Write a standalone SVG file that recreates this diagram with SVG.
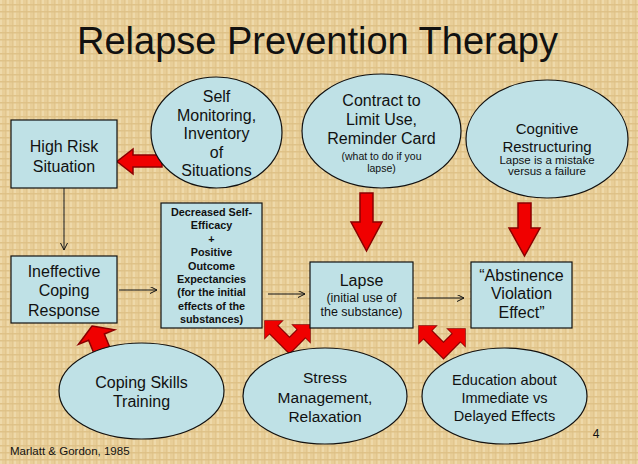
<svg xmlns="http://www.w3.org/2000/svg" width="638" height="464" viewBox="0 0 638 464">
<defs>
<pattern id="weave" width="7" height="7" patternUnits="userSpaceOnUse">
<rect width="7" height="7" fill="#e8ce98"/>
<rect x="0" y="0" width="2" height="7" fill="#eed9aa"/>
<rect x="0" y="4" width="7" height="1.5" fill="#dfc288"/>
<rect x="5" y="0" width="1" height="7" fill="#dcbe84" opacity="0.5"/>
</pattern>
<marker id="open" markerUnits="userSpaceOnUse" markerWidth="10" markerHeight="10" refX="7" refY="3.5" orient="auto">
<path d="M0,0 L7,3.5 L0,7" fill="none" stroke="#111" stroke-width="1"/>
</marker>
<style>
.box{fill:#bfe1e6;stroke:#111;stroke-width:1.2}
.ell{fill:#bfe1e6;stroke:#111;stroke-width:1.2}
.t{font-family:"Liberation Sans",Arial,sans-serif;fill:#111;text-anchor:middle}
.b16{font-size:16px}
.s12{font-size:12.5px}
.s11{font-size:10.5px}
.bold{font-family:"Liberation Sans",Arial,sans-serif;font-weight:bold;font-size:10.8px;fill:#111;text-anchor:middle}
.thin{stroke:#111;stroke-width:1;fill:none;marker-end:url(#open)}
.blk{fill:#f00000;stroke:#8a0000;stroke-width:1.5;stroke-linejoin:miter}
.vout{fill:none;stroke:#8a0000;stroke-width:13;stroke-linejoin:miter}
.vin{fill:none;stroke:#f00000;stroke-width:10.5;stroke-linejoin:miter}
.vhead{fill:#f00000}
</style>
</defs>
<rect width="638" height="464" fill="url(#weave)"/>
<text x="317.5" y="54" font-family="Liberation Sans, Arial, sans-serif" font-size="38" fill="#111" text-anchor="middle">Relapse Prevention Therapy</text>

<g id="connectors">
<line class="thin" x1="64" y1="188" x2="64" y2="250"/>
<line class="thin" x1="119" y1="290" x2="157" y2="290"/>
<line class="thin" x1="268" y1="294" x2="305" y2="294"/>
<line class="thin" x1="417" y1="298" x2="464" y2="298"/>
<polygon class="blk" points="162,155 162,167 133,167 133,174 117,161.5 133,149 133,155"/>
<polygon class="blk" points="360,193 373,193 373,222 382,222 366.5,251 351,222 360,222"/>
<polygon class="blk" points="518,203 531,203 531,228 540,228 524.5,256 509,228 518,228"/>
<polygon class="blk" transform="translate(92,326) rotate(-22)" points="0,0 19.5,12 8.5,12 8.5,30 -8.5,30 -8.5,12 -19.5,12"/>
<g>
<polyline class="vout" points="271,327 289.5,345.5 303,332"/>
<polygon class="blk" points="265,321 282,321 265,338"/>
<polygon class="blk" points="310,325 293,325 310,342"/>
<polyline class="vin" points="271,327 289.5,345.5 303,332"/>
<polygon class="vhead" points="265,321 282,321 265,338"/>
<polygon class="vhead" points="310,325 293,325 310,342"/>
</g>
<g>
<polyline class="vout" points="425,332 443.5,350.5 458,336"/>
<polygon class="blk" points="419,326 436,326 419,343"/>
<polygon class="blk" points="465,329 448,329 465,346"/>
<polyline class="vin" points="425,332 443.5,350.5 458,336"/>
<polygon class="vhead" points="419,326 436,326 419,343"/>
<polygon class="vhead" points="465,329 448,329 465,346"/>
</g>
</g>

<g id="highRisk">
<rect class="box" x="11" y="120" width="106" height="68"/>
<text class="t b16" x="64" y="152">High Risk</text>
<text class="t b16" x="64" y="172">Situation</text>
</g>
<g id="ineffective">
<rect class="box" x="11" y="256" width="106" height="67"/>
<text class="t b16" x="64" y="277">Ineffective</text>
<text class="t b16" x="64" y="296">Coping</text>
<text class="t b16" x="64" y="316">Response</text>
</g>
<g id="decreased">
<rect class="box" x="161" y="203" width="101" height="125"/>
<text class="bold" x="211.5" y="216">Decreased Self-</text>
<text class="bold" x="211.5" y="229.4">Efficacy</text>
<text class="bold" x="211.5" y="242.8">+</text>
<text class="bold" x="211.5" y="256.2">Positive</text>
<text class="bold" x="211.5" y="269.6">Outcome</text>
<text class="bold" x="211.5" y="283">Expectancies</text>
<text class="bold" x="211.5" y="296.4">(for the initial</text>
<text class="bold" x="211.5" y="309.8">effects of the</text>
<text class="bold" x="211.5" y="323.2">substances)</text>
</g>
<g id="lapse">
<rect class="box" x="310" y="262" width="103" height="66"/>
<text class="t b16" x="361.5" y="286">Lapse</text>
<text class="t s12" x="361.5" y="302">(initial use of</text>
<text class="t s12" x="361.5" y="316">the substance)</text>
</g>
<g id="ave">
<rect class="box" x="471" y="262" width="101" height="66"/>
<text class="t b16" x="521.5" y="281">“Abstinence</text>
<text class="t b16" x="521.5" y="299">Violation</text>
<text class="t b16" x="521.5" y="318">Effect”</text>
</g>
<g id="selfMonitoring">
<ellipse class="ell" cx="216.5" cy="132.5" rx="65.5" ry="55.5"/>
<text class="t b16" x="216.5" y="102">Self</text>
<text class="t b16" x="216.5" y="120.5">Monitoring,</text>
<text class="t b16" x="216.5" y="139">Inventory</text>
<text class="t b16" x="216.5" y="157.5">of</text>
<text class="t b16" x="216.5" y="176">Situations</text>
</g>
<g id="contract">
<ellipse class="ell" cx="381.5" cy="131" rx="79.5" ry="57"/>
<text class="t b16" x="381.5" y="106">Contract to</text>
<text class="t b16" x="381.5" y="125">Limit Use,</text>
<text class="t b16" x="381.5" y="144">Reminder Card</text>
<text class="t s11" x="381.5" y="160">(what to do if you</text>
<text class="t s11" x="381.5" y="172">lapse)</text>
</g>
<g id="cognitive">
<ellipse class="ell" cx="547" cy="139" rx="81" ry="59"/>
<text class="t" font-size="15" x="547" y="134">Cognitive</text>
<text class="t" font-size="15" x="547" y="152">Restructuring</text>
<text class="t" font-size="11.5" x="547" y="164">Lapse is a mistake</text>
<text class="t" font-size="11.5" x="547" y="175">versus a failure</text>
</g>
<g id="copingSkills">
<ellipse class="ell" cx="141.5" cy="391" rx="82.5" ry="48"/>
<text class="t b16" x="141.5" y="388">Coping Skills</text>
<text class="t b16" x="141.5" y="407">Training</text>
</g>
<g id="stress">
<ellipse class="ell" cx="325" cy="396" rx="82" ry="48"/>
<text class="t" font-size="15.5" x="325" y="383">Stress</text>
<text class="t" font-size="15.5" x="325" y="403">Management,</text>
<text class="t" font-size="15.5" x="325" y="422">Relaxation</text>
</g>
<g id="education">
<ellipse class="ell" cx="504.5" cy="396" rx="82.5" ry="48"/>
<text class="t" font-size="14.5" x="504.5" y="385">Education about</text>
<text class="t" font-size="14.5" x="504.5" y="403">Immediate vs</text>
<text class="t" font-size="14.5" x="504.5" y="421">Delayed Effects</text>
</g>
<text x="596" y="438" font-family="Liberation Sans, Arial, sans-serif" font-size="12" fill="#111" text-anchor="middle">4</text>
<text x="10" y="455" font-family="Liberation Sans, Arial, sans-serif" font-size="11.5" fill="#111">Marlatt &amp; Gordon, 1985</text>
</svg>
